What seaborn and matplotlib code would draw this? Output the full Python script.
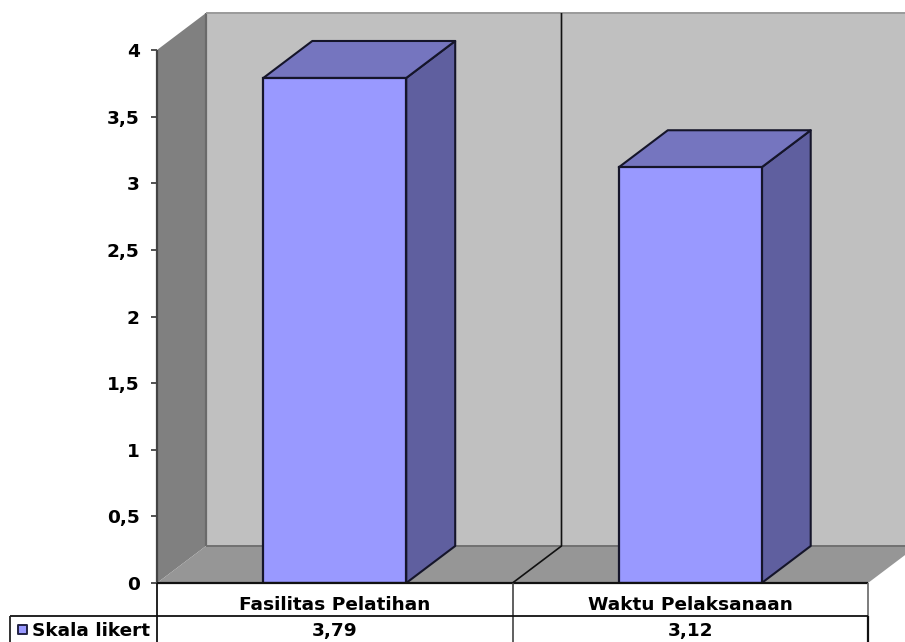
import matplotlib
matplotlib.use("Agg")
import matplotlib.pyplot as plt
from matplotlib.patches import Polygon
from matplotlib.transforms import Affine2D
import pandas as pd
import seaborn as sns

# Data
kategori = ["Fasilitas Pelatihan", "Waktu Pelaksanaan"]
skala_likert = [3.79, 3.12]
label_nilai = ["3,79", "3,12"]
nama_seri = "Skala likert"
y_ticks = [0, 0.5, 1, 1.5, 2, 2.5, 3, 3.5, 4]
y_labels = ["0", "0,5", "1", "1,5", "2", "2,5", "3", "3,5", "4"]

W, H = 905, 642
LEFT, RIGHT, TOP, BOTTOM = 157, 868, 50, 583
DX, DY = 49, 37  # kedalaman 3D dalam piksel
UKURAN = 13.3

sns.set_style("white")
plt.rcParams["font.family"] = ["DejaVu Sans"]
plt.rcParams["font.weight"] = "bold"
plt.rcParams["text.color"] = "black"

fig = plt.figure(figsize=(W / 100, H / 100), dpi=100)
ax = fig.add_axes([LEFT / W, 1 - BOTTOM / H, (RIGHT - LEFT) / W, (BOTTOM - TOP) / H])
ax.patch.set_alpha(0)
px = Affine2D().scale(1 / W, -1 / H).translate(0, 1) + fig.transFigure


def kotak(titik, warna, tepi="none", lw=0, z=1, trans=px):
    ax.add_patch(Polygon(titik, closed=True, facecolor=warna, edgecolor=tepi, linewidth=lw,
                         transform=trans, clip_on=False, zorder=z, joinstyle="round"))


def garis(xs, ys, warna="#111111", lw=1.3, z=1.5):
    ax.plot(xs, ys, color=warna, lw=lw, transform=px, clip_on=False, zorder=z, solid_capstyle="butt")


# Dinding belakang, dinding kiri, lantai
kotak([(LEFT + DX, TOP - DY), (W + 5, TOP - DY), (W + 5, BOTTOM - DY), (LEFT + DX, BOTTOM - DY)], "#C0C0C0")
kotak([(LEFT, TOP), (LEFT + DX, TOP - DY), (LEFT + DX, BOTTOM - DY), (LEFT, BOTTOM)], "#808080")
kotak([(LEFT, BOTTOM), (LEFT + DX, BOTTOM - DY), (RIGHT + DX, BOTTOM - DY), (RIGHT, BOTTOM)], "#969696")
garis([LEFT + DX, LEFT + DX], [TOP - DY, BOTTOM - DY], "#6a6a6a", 1.6)
garis([LEFT + DX, W], [TOP - DY, TOP - DY], "#9a9a9a", 1.4)
garis([LEFT + DX, W], [BOTTOM - DY, BOTTOM - DY], "#707070", 1.4)

# Garis pembagi kategori di lantai dan dinding
tengah = (LEFT + RIGHT) / 2
garis([tengah + DX, tengah + DX, tengah], [TOP - DY, BOTTOM - DY, BOTTOM], "#111111", 1.2)

# Batang depan
df = pd.DataFrame({"kategori": kategori, "nilai": skala_likert})
sns.barplot(data=df, x="kategori", y="nilai", color="#9999FF", saturation=1, width=0.402,
            edgecolor="#15152a", linewidth=1.6, ax=ax, zorder=3)
ax.set_xlim(-0.5, 1.5)
ax.set_ylim(0, 4)

# Sisi dan atap batang dari posisi batang seaborn
dx = DX / ((RIGHT - LEFT) / 2)
dy = DY / ((BOTTOM - TOP) / 4)
for bar in ax.containers[0]:
    x0, x1 = bar.get_x(), bar.get_x() + bar.get_width()
    h = bar.get_height()
    kotak([(x1, 0), (x1 + dx, dy), (x1 + dx, h + dy), (x1, h)], "#5F5F9F", "#15152a", 1.5, 2.5, ax.transData)
    kotak([(x0, h), (x0 + dx, h + dy), (x1 + dx, h + dy), (x1, h)], "#7575BF", "#15152a", 1.5, 2.5, ax.transData)

# Sumbu
for s in ["top", "right", "bottom", "left"]:
    ax.spines[s].set_visible(False)
ax.set_xlabel("")
ax.set_ylabel("")
ax.set_yticks(y_ticks)
ax.set_yticklabels(y_labels, fontsize=UKURAN, fontweight="bold", color="black", va="top")
for lbl in ax.get_yticklabels():
    lbl.set_y(lbl.get_position()[1])
ax.tick_params(axis="y", left=True, length=4.5, width=1.1, color="#222222", pad=8)
ax.set_yticklabels(y_labels, fontsize=UKURAN, fontweight="bold", color="black", va="center_baseline")
ax.tick_params(axis="x", bottom=False, pad=6)
ax.set_xticks([0, 1])
ax.set_xticklabels(kategori, fontsize=UKURAN, fontweight="bold", color="black")

# Tabel data
TBL_Y, TBL_KIRI = 616, 10
garis([LEFT, RIGHT], [BOTTOM, BOTTOM], "#111111", 1.6, 4)
garis([LEFT, LEFT], [TOP, BOTTOM], "#444444", 1.6, 2)
garis([LEFT, LEFT], [BOTTOM, H], "#111111", 1.3, 4)
garis([tengah, tengah], [BOTTOM, H], "#444444", 1.2, 4)
garis([RIGHT, RIGHT], [BOTTOM, TBL_Y], "#666666", 1.2, 4)
garis([TBL_KIRI, RIGHT], [TBL_Y, TBL_Y], "#111111", 1.3, 4)
garis([TBL_KIRI, TBL_KIRI], [TBL_Y, H], "#222222", 1.3, 4)
garis([RIGHT, RIGHT], [TBL_Y, H], "#111111", 1.6, 4)

for nilai, pos in zip(label_nilai, ax.get_xticks()):
    ax.annotate(nilai, xy=(pos, 0), xycoords=ax.get_xaxis_transform(), xytext=(0, -(631 - BOTTOM) * 0.72),
                textcoords="offset points", ha="center", va="center", fontsize=UKURAN, fontweight="bold",
                annotation_clip=False)

# Legenda di tabel
kotak([(18, 625), (27, 625), (27, 634), (18, 634)], "#9999FF", "#222244", 1.4, 4)
ax.text(32, 631, nama_seri, transform=px, ha="left", va="center", fontsize=UKURAN, fontweight="bold", clip_on=False)

fig.savefig("out.png", dpi=100)
